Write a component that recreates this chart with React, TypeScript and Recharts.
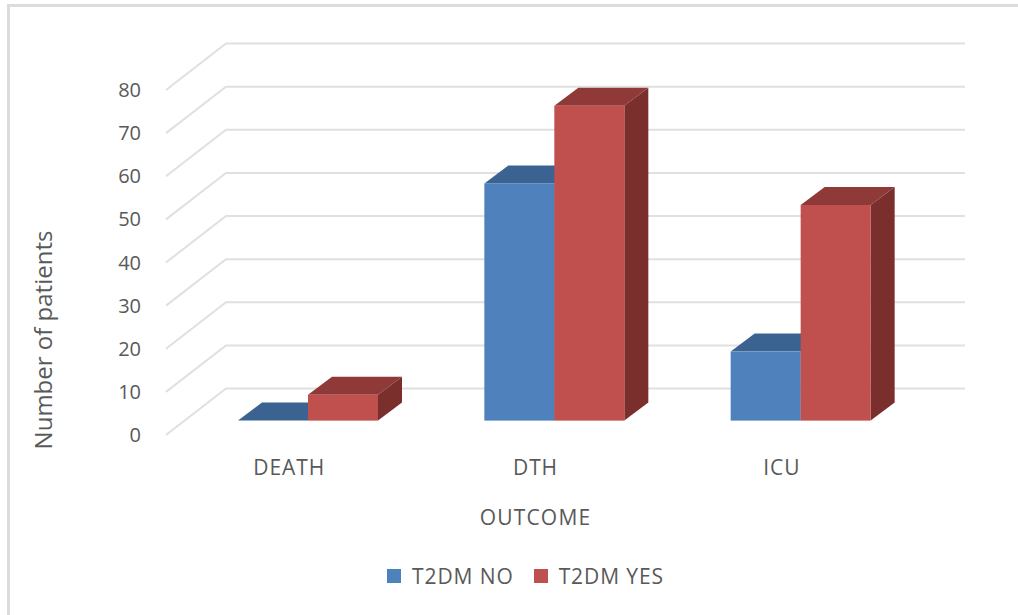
import { BarChart, Bar, XAxis, YAxis, CartesianGrid, Legend, Label } from "recharts";

const categories = ["DEATH", "DTH", "ICU"];
const t2dmNo = [0, 55, 16];
const t2dmYes = [6, 73, 50];
const yTicks = [0, 10, 20, 30, 40, 50, 60, 70, 80];

const data = categories.map((outcome, i) => ({
  outcome,
  no: t2dmNo[i],
  yes: t2dmYes[i],
}));

const textColor = "#595959";
const fontFamily = "'Open Sans', sans-serif";

// floor runs back from the axis plane to the wall
const WALL_DX = 60;
const WALL_DY = 46.5;
// bars stand part way back on that floor and have their own depth
const BAR_DX = 19;
const BAR_DY = 14.4;
const DEPTH_X = 24;
const DEPTH_Y = 18;

function gridLine(props: any) {
  const { x1, x2, y1, key } = props;
  const backY = y1 - WALL_DY;
  return (
    <path
      key={key}
      d={`M${x1},${y1}L${x1 + WALL_DX},${backY}L${x2 + WALL_DX},${backY}`}
      fill="none"
      stroke="#e0e0e0"
      strokeWidth={2}
    />
  );
}

function box3d(front: string, top: string, side: string) {
  return (props: any) => {
    const x = props.x + BAR_DX;
    const y = props.y - BAR_DY;
    const w = props.width;
    const h = props.height;
    return (
      <g>
        <path
          d={`M${x},${y}l${DEPTH_X},${-DEPTH_Y}h${w}l${-DEPTH_X},${DEPTH_Y}z`}
          fill={top}
        />
        <path
          d={`M${x + w},${y}l${DEPTH_X},${-DEPTH_Y}v${h}l${-DEPTH_X},${DEPTH_Y}z`}
          fill={side}
        />
        <rect x={x} y={y} width={w} height={h} fill={front} />
      </g>
    );
  };
}

function legendContent(props: any) {
  return (
    <div style={{ display: "flex", justifyContent: "center", gap: 20, paddingLeft: 33 }}>
      {props.payload.map((item: any) => (
        <div key={item.value} style={{ display: "flex", alignItems: "center", gap: 11 }}>
          <span style={{ width: 14, height: 14, background: item.color, display: "block" }} />
          <span style={{ fontSize: 21, letterSpacing: 0.9, color: textColor, fontFamily, lineHeight: "24px" }}>
            {item.value}
          </span>
        </div>
      ))}
    </div>
  );
}

export default function App() {
  return (
    <div style={{ position: "absolute", left: 0, top: 0, width: 1018, height: 615, background: "#fff" }}>
      <div
        style={{
          position: "absolute",
          left: 7,
          top: 4,
          right: 0,
          bottom: 0,
          borderTop: "3px solid #dcdcdc",
          borderLeft: "3px solid #dcdcdc",
        }}
      />
      <BarChart
        width={1018}
        height={615}
        data={data}
        barSize={70}
        barGap={0}
        margin={{ top: 90, right: 113, bottom: 56, left: 0 }}
        style={{ fontFamily }}
      >
        <CartesianGrid vertical={false} horizontal={gridLine} />
        <XAxis
          dataKey="outcome"
          height={100}
          axisLine={false}
          tickLine={false}
          tickSize={0}
          tickMargin={25}
          tick={{ fontSize: 21, fill: textColor, letterSpacing: 0.9 }}
        >
          <Label
            value="OUTCOME"
            position="insideBottom"
            offset={10}
            style={{ fontSize: 21, fill: textColor, letterSpacing: 1.2 }}
          />
        </XAxis>
        <YAxis
          width={166}
          domain={[0, 80]}
          ticks={yTicks}
          interval={0}
          axisLine={false}
          tickLine={false}
          tickSize={0}
          tickMargin={25}
          tick={{ fontSize: 20, fill: textColor }}
        >
          <Label
            content={() => (
              <text
                transform="translate(42,340) rotate(-90)"
                textAnchor="middle"
                dominantBaseline="central"
                fontSize={24}
                fill={textColor}
              >
                Number of patients
              </text>
            )}
          />
        </YAxis>
        <Legend
          height={24}
          content={legendContent}
          wrapperStyle={{ position: "absolute", left: 0, width: 1018, top: 564, bottom: "auto" }}
        />
        <Bar
          dataKey="no"
          name="T2DM NO"
          fill="#4f81bd"
          isAnimationActive={false}
          shape={box3d("#4f81bd", "#3b6392", "#36597f")}
        />
        <Bar
          dataKey="yes"
          name="T2DM YES"
          fill="#c0504d"
          isAnimationActive={false}
          shape={box3d("#c0504d", "#8f3a38", "#7b2f2d")}
        />
      </BarChart>
    </div>
  );
}
